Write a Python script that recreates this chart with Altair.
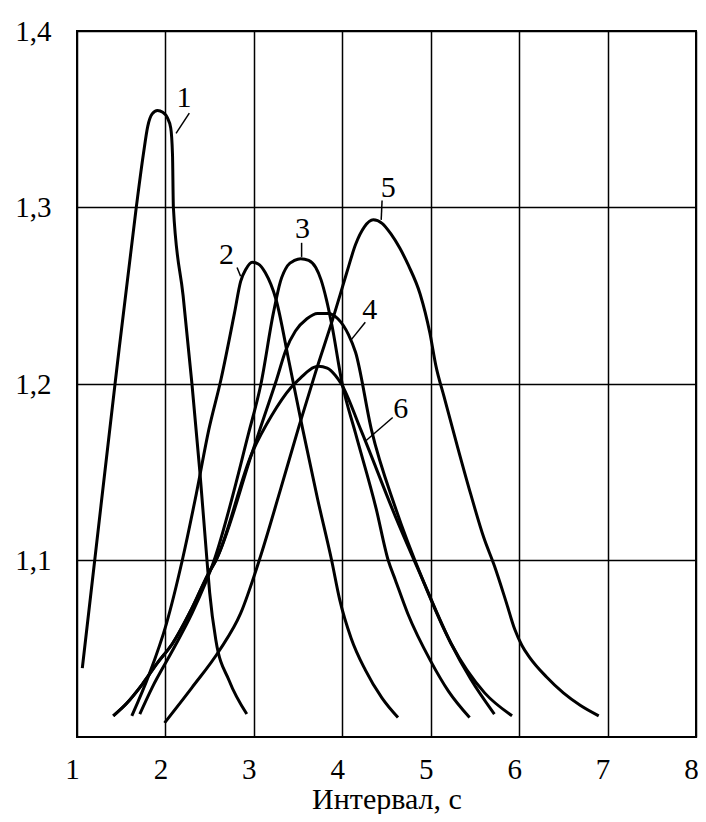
import altair as alt
import pandas as pd

# ---- curve data (x = interval, s ; y = ratio) ----
c1_x = [1.06, 1.20, 1.43, 1.67, 1.75, 1.80, 1.85, 1.91, 1.97, 2.02, 2.06, 2.08, 2.09, 2.20, 2.30, 2.39, 2.47, 2.50, 2.57, 2.72, 2.92]
c1_y = [1.039, 1.100, 1.200, 1.300, 1.330, 1.346, 1.353, 1.355, 1.354, 1.351, 1.345, 1.330, 1.300, 1.250, 1.200, 1.150, 1.100, 1.082, 1.055, 1.032, 1.013]

c2_x = [1.62, 1.82, 2.01, 2.19, 2.35, 2.49, 2.63, 2.78, 2.85, 2.91, 2.98, 3.05, 3.13, 3.25, 3.40, 3.55, 3.72, 3.88, 3.97, 4.10, 4.26, 4.45, 4.63]
c2_y = [1.012, 1.036, 1.064, 1.100, 1.138, 1.174, 1.203, 1.240, 1.258, 1.265, 1.269, 1.268, 1.263, 1.248, 1.212, 1.175, 1.135, 1.100, 1.078, 1.056, 1.038, 1.022, 1.011]

c3_x = [1.71, 1.85, 2.08, 2.30, 2.55, 2.94, 3.08, 3.22, 3.30, 3.38, 3.46, 3.53, 3.62, 3.70, 3.76, 3.82, 3.88, 4.00, 4.15, 4.38, 4.52, 4.60, 4.74, 5.00, 5.20, 5.44]
c3_y = [1.013, 1.028, 1.049, 1.070, 1.100, 1.172, 1.200, 1.240, 1.258, 1.267, 1.270, 1.271, 1.270, 1.266, 1.259, 1.248, 1.234, 1.200, 1.172, 1.130, 1.100, 1.089, 1.070, 1.043, 1.026, 1.011]

c4_x = [1.41, 1.56, 1.74, 1.91, 2.08, 2.30, 2.49, 2.57, 2.98, 3.12, 3.26, 3.36, 3.47, 3.60, 3.72, 3.84, 3.95, 4.07, 4.15, 4.33, 4.60, 4.91, 5.23, 5.61, 5.92]
c4_y = [1.012, 1.019, 1.030, 1.042, 1.053, 1.073, 1.093, 1.100, 1.161, 1.182, 1.203, 1.219, 1.230, 1.237, 1.240, 1.240, 1.237, 1.228, 1.218, 1.174, 1.130, 1.089, 1.053, 1.025, 1.012]

c5_x = [1.99, 2.30, 2.61, 2.85, 3.06, 3.30, 3.51, 3.70, 3.90, 4.05, 4.15, 4.25, 4.35, 4.45, 4.55, 4.65, 4.75, 4.88, 4.99, 5.06, 5.15, 5.30, 5.45, 5.60, 5.72, 5.85, 5.95, 6.03, 6.12, 6.31, 6.50, 6.69, 6.90]
c5_y = [1.008, 1.028, 1.049, 1.070, 1.100, 1.140, 1.176, 1.207, 1.238, 1.263, 1.279, 1.289, 1.293, 1.291, 1.285, 1.277, 1.267, 1.251, 1.229, 1.210, 1.193, 1.165, 1.138, 1.113, 1.097, 1.077, 1.061, 1.052, 1.045, 1.034, 1.025, 1.018, 1.012]

c6_x = [1.41, 1.56, 1.74, 1.91, 2.08, 2.30, 2.49, 2.57, 2.98, 3.20, 3.42, 3.54, 3.63, 3.73, 3.83, 3.92, 3.99, 4.21, 4.60, 4.91, 5.23, 5.45, 5.72]
c6_y = [1.012, 1.019, 1.030, 1.042, 1.053, 1.073, 1.093, 1.100, 1.161, 1.182, 1.198, 1.204, 1.208, 1.210, 1.209, 1.205, 1.200, 1.174, 1.125, 1.089, 1.053, 1.033, 1.013]

# ---- curve labels and their leader lines (data units) ----
lab_text = ["1", "2", "3", "4", "5", "6"]
lab_x = [2.21, 2.69, 3.55, 4.31, 4.52, 4.66]
lab_y = [1.362, 1.273, 1.288, 1.242, 1.311, 1.186]
lead_x1 = [2.27, 2.81, 3.54, 4.26, 4.45, 4.57]
lead_y1 = [1.3535, 1.266, 1.280, 1.235, 1.304, 1.181]
lead_x2 = [2.12, 2.85, 3.54, 4.10, 4.44, 4.27]
lead_y2 = [1.342, 1.261, 1.272, 1.225, 1.293, 1.168]

x_ticks = [1, 2, 3, 4, 5, 6, 7, 8]
y_ticks = [1.1, 1.2, 1.3, 1.4]

rows = []
for name, xs, ys in [("1", c1_x, c1_y), ("2", c2_x, c2_y), ("3", c3_x, c3_y),
                     ("4", c4_x, c4_y), ("5", c5_x, c5_y), ("6", c6_x, c6_y)]:
    for xv, yv in zip(xs, ys):
        rows.append({"curve": name, "x": xv, "y": yv})
curves = pd.DataFrame(rows)

labels = pd.DataFrame({"t": lab_text, "x": lab_x, "y": lab_y})
leaders = pd.DataFrame({"x": lead_x1, "y": lead_y1, "x2": lead_x2, "y2": lead_y2})

FONT = "Liberation Serif"

xscale = alt.Scale(domain=[1, 8], nice=False, zero=False)
yscale = alt.Scale(domain=[1.0, 1.4], nice=False, zero=False)

xaxis = alt.Axis(values=x_ticks, format="d", grid=True, gridColor="black", gridWidth=1.5, gridOpacity=1,
                 ticks=False, domain=False, labelFont=FONT, labelFontSize=29, labelColor="black",
                 labelPadding=18, labelOffset=-5, labelFlush=False,
                 title="Интервал, с", titleFont=FONT, titleFontSize=30, titleFontWeight="normal",
                 titleColor="black", titleY=71, titleBaseline="alphabetic")
yaxis = alt.Axis(values=y_ticks, grid=True, gridColor="black", gridWidth=1.5, gridOpacity=1,
                 ticks=False, domain=False, labelFont=FONT, labelFontSize=29, labelColor="black",
                 labelPadding=26, labelFlush=False,
                 labelExpr="replace(format(datum.value, '.1f'), '.', ',')", title="")

lines = alt.Chart(curves).mark_line(color="black", strokeWidth=3, interpolate="monotone").encode(
    x=alt.X("x:Q", scale=xscale, axis=xaxis),
    y=alt.Y("y:Q", scale=yscale, axis=yaxis),
    detail="curve:N",
)

lead = alt.Chart(leaders).mark_rule(color="black", strokeWidth=1.5).encode(
    x=alt.X("x:Q", scale=xscale), y=alt.Y("y:Q", scale=yscale),
    x2="x2:Q", y2="y2:Q",
)

txt = alt.Chart(labels).mark_text(font=FONT, fontSize=30, color="black",
                                  align="center", baseline="middle").encode(
    x=alt.X("x:Q", scale=xscale), y=alt.Y("y:Q", scale=yscale), text="t:N",
)

chart = alt.layer(lines, lead, txt).properties(
    width=619, height=706,
    autosize=alt.AutoSizeParams(type="none"),
    padding={"left": 69, "top": 23, "right": 2, "bottom": 77},
    background="white",
).configure_view(stroke="black", strokeWidth=2)

chart.save("out.html", embed_options={"renderer": "svg", "actions": False})
